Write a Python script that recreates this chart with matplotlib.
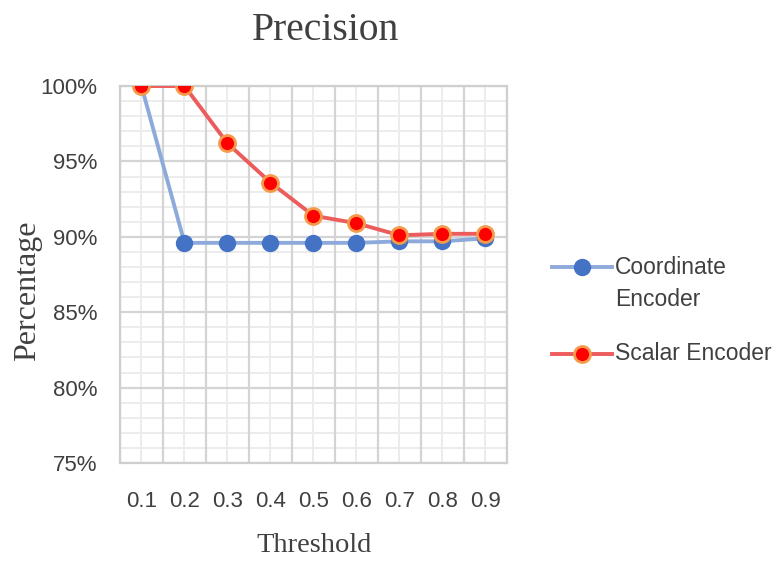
import matplotlib
matplotlib.use("Agg")
import matplotlib.pyplot as plt
from matplotlib.ticker import FuncFormatter
from matplotlib.lines import Line2D

thresholds = ["0.1", "0.2", "0.3", "0.4", "0.5", "0.6", "0.7", "0.8", "0.9"]
coordinate_encoder = [100.0, 89.6, 89.6, 89.6, 89.6, 89.6, 89.7, 89.7, 89.9]
scalar_encoder = [100.0, 100.0, 96.2, 93.6, 91.4, 90.9, 90.1, 90.2, 90.2]
y_ticks = [75, 80, 85, 90, 95, 100]

serif = ["Liberation Serif", "DejaVu Serif"]
sans = ["Liberation Sans", "DejaVu Sans"]
text_color = "#404040"

blue_style = dict(color="#8eaadb", lw=2.8, marker="o", ms=11.5,
                  mfc="#4472c4", mec="#4472c4")
red_style = dict(color="#ec5c5c", lw=2.8, marker="o", ms=11.5,
                 mfc="#ff0000", mec="#f59a4a", mew=2)

fig = plt.figure(figsize=(7.77, 5.63), dpi=100)
ax = fig.add_axes([0.1544, 0.1776, 0.4981, 0.6696])

x = list(range(len(thresholds)))
ax.plot(x, coordinate_encoder, zorder=3, **blue_style)
ax.plot(x, scalar_encoder, zorder=4, **red_style)

ax.set_xlim(-0.5, len(thresholds) - 0.5)
ax.set_ylim(75, 100)
ax.set_xticks(x)
ax.set_xticklabels(thresholds)
ax.set_yticks(y_ticks)
ax.yaxis.set_major_formatter(FuncFormatter(lambda v, p: f"{v:.0f}%"))

# Major vertical lines sit between categories, minor ones through them
ax.grid(False)
for b in [i - 0.5 for i in range(len(thresholds) + 1)]:
    ax.axvline(b, color="#d4d4d4", lw=1.6, zorder=1)
for c in x:
    ax.axvline(c, color="#ececec", lw=1.4, zorder=0.5)
for v in range(75, 101):
    if v % 5 == 0:
        ax.axhline(v, color="#d4d4d4", lw=1.6, zorder=1)
    else:
        ax.axhline(v, color="#ececec", lw=1.4, zorder=0.5)

for s in ax.spines.values():
    s.set_color("#cfcfcf")
    s.set_linewidth(1.6)
ax.tick_params(which="both", length=0)
ax.tick_params(axis="x", pad=20)
ax.tick_params(axis="y", pad=16)
for lab in ax.get_xticklabels() + ax.get_yticklabels():
    lab.set_fontfamily(sans)
    lab.set_fontsize(16)
    lab.set_color(text_color)

W, H = 777, 563
fig.text(326 / W, 1 - 31 / H, "Precision", ha="center", va="center",
         fontfamily=serif, fontsize=28.5, color=text_color)
fig.text(314 / W, 1 - 546 / H, "Threshold", ha="center", va="center",
         fontfamily=serif, fontsize=20.5, color=text_color)
fig.text(28 / W, 1 - 291 / H, "Percentage", ha="center", va="center",
         rotation=90, fontfamily=serif, fontsize=23, color=text_color)

# Legend drawn by hand so the marker lines up with the first text line
for yc, style in [(267, blue_style), (354, red_style)]:
    yf = 1 - yc / H
    fig.add_artist(Line2D([552 / W, 612 / W], [yf, yf], transform=fig.transFigure,
                          color=style["color"], lw=style["lw"]))
    fig.add_artist(Line2D([582 / W], [yf], transform=fig.transFigure, ls="none",
                          marker="o", ms=style["ms"], mfc=style["mfc"],
                          mec=style["mec"], mew=style.get("mew", 1)))
for yc, label in [(267, "Coordinate"), (300, "Encoder"), (354, "Scalar Encoder")]:
    fig.text(615 / W, 1 - yc / H, label, ha="left", va="center",
             fontfamily=sans, fontsize=16.5, color=text_color)

fig.savefig("out.png", dpi=100)
